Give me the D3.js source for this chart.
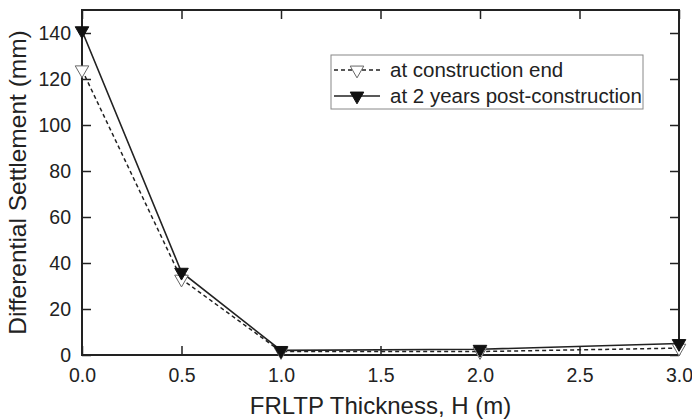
<!DOCTYPE html>
<html lang="en">
<head>
<meta charset="utf-8">
<title>Differential Settlement</title>
<style>
  body { margin: 0; background: #fff; }
  text { font-family: Arial, "Liberation Sans", sans-serif; fill: #222; }
</style>
</head>
<body>
<script src="https://cdnjs.cloudflare.com/ajax/libs/d3/7.8.5/d3.min.js"></script>
<script>

var thickness = [0, 0.5, 1.0, 2.0, 3.0];
var endOfConstruction = [124, 33, 1.5, 1.5, 3];
var twoYearsPost = [141, 36, 2, 2.5, 5];
var seriesNames = ["at construction end", "at 2 years post-construction"];
var xTicks = [0, 0.5, 1.0, 1.5, 2.0, 2.5, 3.0];
var yTicks = [0, 20, 40, 60, 80, 100, 120, 140];

var margin = {top: 10, right: 13, bottom: 65, left: 82},
    width = 692 - margin.left - margin.right,
    height = 420 - margin.top - margin.bottom;

var svg = d3.select("body").append("svg")
    .attr("width", 692)
    .attr("height", 420);

var g = svg.append("g")
    .attr("transform", "translate(" + margin.left + "," + margin.top + ")");

var xScale = d3.scaleLinear().domain([0, 3]).range([0, width]);
var yScale = d3.scaleLinear().domain([0, 150]).range([height, 0]);

// axes, ticks pointing inward on all four sides
var xAxis = d3.axisBottom(xScale).tickValues(xTicks).tickFormat(d3.format(".1f")).tickSizeInner(-9).tickSizeOuter(0).tickPadding(13);
var xTop = d3.axisTop(xScale).tickValues(xTicks).tickFormat("").tickSizeInner(-9).tickSizeOuter(0);
var yAxis = d3.axisLeft(yScale).tickValues(yTicks).tickSizeInner(-9).tickSizeOuter(0).tickPadding(11);
var yRight = d3.axisRight(yScale).tickValues(yTicks).tickFormat("").tickSizeInner(-9).tickSizeOuter(0);

var gx = g.append("g").attr("transform", "translate(0," + height + ")").call(xAxis);
var gt = g.append("g").call(xTop);
var gy = g.append("g").call(yAxis);
var gr = g.append("g").attr("transform", "translate(" + width + ",0)").call(yRight);

[gx, gt, gy, gr].forEach(function(a) {
    a.selectAll("path").remove();
    a.selectAll("line").attr("stroke", "#222").attr("stroke-width", 1.5);
    a.selectAll("text").style("font-size", "19.5px").attr("fill", "#333");
});

// frame
g.append("rect")
    .attr("width", width).attr("height", height)
    .attr("fill", "none").attr("stroke", "#222").attr("stroke-width", 2);

var line = d3.line()
    .x(function(d) { return xScale(d[0]); })
    .y(function(d) { return yScale(d[1]); });

var ptsEnd = thickness.map(function(t, i) { return [t, endOfConstruction[i]]; });
var ptsPost = thickness.map(function(t, i) { return [t, twoYearsPost[i]]; });

g.append("path").datum(ptsEnd).attr("d", line)
    .attr("fill", "none").attr("stroke", "#222").attr("stroke-width", 1.5)
    .attr("stroke-dasharray", "4,3");
g.append("path").datum(ptsPost).attr("d", line)
    .attr("fill", "none").attr("stroke", "#222").attr("stroke-width", 1.6);

var tri = d3.symbol().type(d3.symbolTriangle).size(80);

function markers(pts, filled) {
    g.selectAll(null).data(pts).enter().append("path")
        .attr("d", tri)
        .attr("transform", function(d) { return "translate(" + xScale(d[0]) + "," + yScale(d[1]) + ") rotate(180)"; })
        .attr("fill", filled ? "#111" : "#fff")
        .attr("stroke", filled ? "#111" : "#666")
        .attr("stroke-width", 1);
}
markers(ptsEnd, false);
markers(ptsPost, true);

// legend
var lg = svg.append("g").attr("transform", "translate(331,55)");
lg.append("rect").attr("width", 312).attr("height", 54)
    .attr("fill", "#fff").attr("stroke", "#888").attr("stroke-width", 1);
seriesNames.forEach(function(name, i) {
    var y = 15 + i * 26;
    lg.append("line").attr("x1", 3).attr("x2", 49).attr("y1", y).attr("y2", y)
        .attr("stroke", "#222").attr("stroke-width", 1.5)
        .attr("stroke-dasharray", i === 0 ? "4,3" : null);
    lg.append("path").attr("d", tri)
        .attr("transform", "translate(26," + y + ") rotate(180)")
        .attr("fill", i === 0 ? "#fff" : "#111")
        .attr("stroke", i === 0 ? "#666" : "#111");
    lg.append("text").attr("x", 59).attr("y", y + 7)
        .style("font-size", "20.5px").text(name);
});

// axis titles
svg.append("text")
    .attr("x", margin.left + width / 2).attr("y", 414)
    .attr("text-anchor", "middle").style("font-size", "24px")
    .text("FRLTP Thickness, H (m)");
svg.append("text")
    .attr("transform", "translate(26,182.5) rotate(-90)")
    .attr("text-anchor", "middle").style("font-size", "24.5px")
    .text("Differential Settlement (mm)");

</script>
</body>
</html>
